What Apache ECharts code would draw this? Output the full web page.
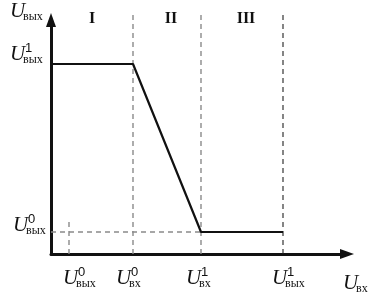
<!DOCTYPE html>
<html><head><meta charset="utf-8">
<script src="https://cdn.jsdelivr.net/npm/echarts@6/dist/echarts.min.js"></script>
<style>html,body{margin:0;padding:0;background:#fff}#c{width:377px;height:302px}</style>
</head><body><div id="c"></div>
<script>
// Axis ranges (arbitrary units)
const xMax = 296;
const yMax = 234;
// Characteristic points on the input axis: U0вых, U0вх, U1вх, U1вых
const xTicks = [18, 82, 150, 232];
const xTickSup = ['0', '0', '1', '1'];
const xTickSub = ['вых', 'вх', 'вх', 'вых'];
// Output levels: U1вых, U0вых
const yTicks = [190, 22];
const yTickSup = ['1', '0'];
const yTickSub = ['вых', 'вых'];
// Transfer characteristic
const curveX = [0, 82, 150, 232];
const curveY = [190, 190, 22, 22];
// Regions
const regionNames = ['I', 'II', 'III'];
const regionBounds = [0, 82, 150, 232];
const dashTop = 242;
const markerTop = 36;

const chart = echarts.init(document.getElementById('c'), null, {renderer: 'canvas'});
const SERIF = '"Liberation Serif", "DejaVu Serif", serif';
const SANS = '"Liberation Sans", Arial, sans-serif';

const axisCommon = {
  type: 'value', min: 0,
  axisLine: {show: true, symbol: ['none', 'triangle'], symbolSize: [10, 14], lineStyle: {color: '#111', width: 3}},
  axisTick: {show: false}, axisLabel: {show: false}, splitLine: {show: false}
};
const grayDash = {color: '#8a8a8a', width: 1.4, type: [5, 4]};
function seg(data, style, z) {
  return {type: 'line', data: data, symbol: 'none', clip: false, silent: true, z: z || 1,
    lineStyle: style, animation: false};
}
const series = [
  seg([[xTicks[1], 0], [xTicks[1], dashTop]], grayDash),
  seg([[xTicks[2], 0], [xTicks[2], dashTop]], grayDash),
  seg([[0, yTicks[1]], [xTicks[2], yTicks[1]]], grayDash),
  seg([[xTicks[0], 0], [xTicks[0], markerTop]], grayDash),
  seg([[xTicks[3], 0], [xTicks[3], dashTop]], {color: '#222', width: 1.1, type: [5, 4]}),
  seg(curveX.map((x, i) => [x, curveY[i]]), {color: '#111', width: 2.2}, 5)
];

chart.setOption({
  animation: false,
  grid: {left: 51, top: 20, width: xMax, height: yMax},
  xAxis: Object.assign({}, axisCommon, {max: xMax}),
  yAxis: Object.assign({}, axisCommon, {max: yMax}),
  series: series
});

function px(x, y) { return chart.convertToPixel({gridIndex: 0}, [x, y]); }
const g = [];
function uLabel(x0, yMid, sup, sub) {
  g.push({type: 'text', x: x0, y: yMid, style: {text: 'U', font: 'italic 21px ' + SERIF, fill: '#111', align: 'left', verticalAlign: 'middle'}});
  if (sup) g.push({type: 'text', x: x0 + 15, y: yMid - 6, style: {text: sup, font: '13px ' + SANS, fill: '#111', align: 'left', verticalAlign: 'middle'}});
  if (sub) g.push({type: 'text', x: x0 + 13, y: yMid + 6, style: {text: sub, font: '12px ' + SERIF, fill: '#111', align: 'left', verticalAlign: 'middle'}});
}
const xShift = [-6, -17, -15, -11];
const axisBottom = px(0, 0)[1];
xTicks.forEach((v, i) => {
  const p = px(v, 0);
  uLabel(p[0] + xShift[i], axisBottom + 24, xTickSup[i], xTickSub[i]);
});
yTicks.forEach((v, i) => {
  const p = px(0, v);
  uLabel(i === 0 ? 10 : 13, p[1] - (i === 0 ? 10 : 7), yTickSup[i], yTickSub[i]);
});
// axis names
const yTopPx = px(0, yMax);
uLabel(10, yTopPx[1] - 9, null, 'вых');
const xEnd = px(xMax, 0);
uLabel(xEnd[0] - 4, axisBottom + 29, null, 'вх');
// region numerals
regionNames.forEach((n, i) => {
  const c = (regionBounds[i] + regionBounds[i + 1]) / 2;
  const p = px(c, 0);
  g.push({type: 'text', x: p[0] + (i === 0 ? 0 : 4), y: 19, style: {text: n, font: 'bold 16px ' + SERIF, fill: '#111', align: 'center', verticalAlign: 'middle'}});
});
chart.setOption({graphic: g});
</script></body></html>
